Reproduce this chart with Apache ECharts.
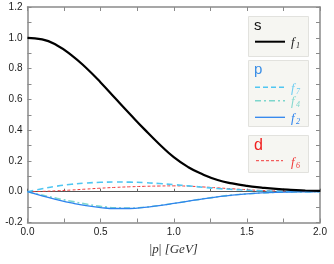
<!DOCTYPE html>
<html><head><meta charset="utf-8">
<script src="https://cdn.jsdelivr.net/npm/echarts@6/dist/echarts.min.js"></script>
<style>html,body{margin:0;padding:0;background:#fff}#c{width:334px;height:264px}</style>
</head><body><div id="c"></div>
<script>
const momenta = [0,0.1,0.2,0.3,0.4,0.5,0.6,0.7,0.8,0.9,1.0,1.1,1.2,1.3,1.4,1.5,1.6,1.7,1.8,1.9,2.0];
const f1 = [1.0,0.99,0.952,0.888,0.805,0.71,0.607,0.505,0.405,0.31,0.224,0.159,0.112,0.076,0.054,0.038,0.027,0.018,0.012,0.008,0.005];
const f7 = [0,0.019,0.036,0.048,0.056,0.061,0.063,0.062,0.059,0.053,0.046,0.038,0.029,0.021,0.015,0.01,0.006,0.004,0.002,0.001,0];
const f4 = [0,-0.022,-0.043,-0.062,-0.08,-0.095,-0.104,-0.106,-0.101,-0.09,-0.076,-0.061,-0.046,-0.033,-0.022,-0.014,-0.008,-0.004,-0.002,-0.001,0];
const f2 = [0,-0.027,-0.051,-0.073,-0.091,-0.103,-0.109,-0.109,-0.102,-0.09,-0.076,-0.061,-0.046,-0.033,-0.022,-0.014,-0.008,-0.004,-0.002,-0.001,0];
const f6 = [0,0.002,0.006,0.011,0.017,0.023,0.028,0.032,0.035,0.037,0.038,0.036,0.031,0.025,0.019,0.013,0.008,0.005,0.003,0.001,0];
const yTicks = [-0.2,0.0,0.2,0.4,0.6,0.8,1.0,1.2];
const xTicks = [0.0,0.5,1.0,1.5,2.0];

const pair = a => momenta.map((p,i)=>[p,a[i]]);
const frame = '#8a8a8a';
const lblFont = {fontSize:10,color:'#1a1a1a',fontFamily:'Liberation Sans, Arial, sans-serif'};
const tick = {show:true,inside:true,length:4,lineStyle:{color:frame,width:1}};
const minor = {show:true,splitNumber:2,length:4,lineStyle:{color:frame,width:1}};

const chart = echarts.init(document.getElementById('c'),null,{renderer:'canvas'});
const common = {type:'value',min:yTicks[0],max:yTicks[yTicks.length-1],interval:0.2};
const opt = {
  animation:false,
  grid:{left:27.5,right:14,top:7,bottom:41.5},
  xAxis:[
    {type:'value',min:xTicks[0],max:xTicks[xTicks.length-1],interval:0.5,position:'bottom',
     axisLine:{onZero:false,lineStyle:{color:frame,width:1.5}},axisTick:tick,minorTick:minor,
     splitLine:{show:false},
     axisLabel:Object.assign({margin:5,formatter:v=>v.toFixed(1)},lblFont),
     name:'{b||}{i|p}{b||} {i|[GeV]}',nameLocation:'middle',nameGap:21,
     nameTextStyle:{rich:{b:{fontSize:13,fontFamily:'Liberation Serif, serif',color:'#333'},
                          i:{fontSize:13,fontStyle:'italic',fontFamily:'Liberation Serif, serif',color:'#333'}}}},
    {type:'value',min:0,max:2,interval:0.5,position:'top',
     axisLine:{onZero:false,lineStyle:{color:frame,width:1.5}},axisTick:tick,minorTick:minor,
     splitLine:{show:false},axisLabel:{show:false}},
    {type:'value',min:0,max:2,interval:0.5,position:'bottom',
     axisLine:{onZero:true,lineStyle:{color:'#555',width:1}},
     axisTick:{show:true,inside:true,length:3,lineStyle:{color:'#666'}},
     minorTick:{show:true,splitNumber:2,length:3,lineStyle:{color:'#666'}},
     splitLine:{show:false},axisLabel:{show:false}}
  ],
  yAxis:[
    Object.assign({position:'left',axisLine:{onZero:false,lineStyle:{color:frame,width:1.5}},axisTick:tick,minorTick:minor,
     splitLine:{show:false},axisLabel:Object.assign({margin:5,formatter:v=>v.toFixed(1)},lblFont)},common),
    Object.assign({position:'right',axisLine:{onZero:false,lineStyle:{color:frame,width:1.5}},axisTick:tick,minorTick:minor,
     splitLine:{show:false},axisLabel:{show:false}},common)
  ],
  series:[
    {type:'line',data:pair(f6),smooth:true,symbol:'none',lineStyle:{color:'#f03a3a',width:1,type:[3,2]}},
    {type:'line',data:pair(f4),smooth:true,symbol:'none',lineStyle:{color:'#7dd6cc',width:1.6,type:[6,3,2,3]}},
    {type:'line',data:pair(f7),smooth:true,symbol:'none',lineStyle:{color:'#4fc6f2',width:1.6,type:[6,4]}},
    {type:'line',data:pair(f2),smooth:true,symbol:'none',lineStyle:{color:'#2e84ee',width:1.3}},
    {type:'line',data:pair(f1),smooth:true,symbol:'none',lineStyle:{color:'#000',width:2.2}}
  ]
};

const boxStyle = {fill:'#f6f6f2',stroke:'#e2e2de',lineWidth:1};
const sans = 'Liberation Sans, Arial, sans-serif';
const serif = 'Liberation Serif, serif';
function fLabel(x,y,sub,color){
  return [
    {type:'text',left:x,top:y-9,z:10,style:{text:'f',font:'italic 13px '+serif,fill:color}},
    {type:'text',left:x+5,top:y-3,z:10,style:{text:sub,font:'italic 8px '+serif,fill:color}}
  ];
}
function sample(y,color,dash,w){
  return {type:'line',z:10,shape:{x1:255,y1:y,x2:285,y2:y},style:{stroke:color,lineWidth:w,lineDash:dash}};
}
opt.graphic = [
  {type:'rect',z:9,shape:{x:248.5,y:16.5,width:60,height:40},style:boxStyle},
  {type:'text',z:10,left:254,top:18,style:{text:'s',font:'15px '+sans,fill:'#111'}},
  sample(41.7,'#000',null,2),
  ...fLabel(291,45,'1','#222'),
  {type:'rect',z:9,shape:{x:248.5,y:60.5,width:60,height:66},style:boxStyle},
  {type:'text',z:10,left:254,top:62,style:{text:'p',font:'15px '+sans,fill:'#3a8ee6'}},
  sample(87.3,'#4fc6f2',[5,3],1.5),
  ...fLabel(291,91,'7','#6fcdf2'),
  sample(100.7,'#7dd6cc',[6,3,2,3],1.5),
  ...fLabel(291,104,'4','#86d8cf'),
  sample(117.3,'#2e84ee',null,1.3),
  ...fLabel(291,121,'2','#2e84ee'),
  {type:'rect',z:9,shape:{x:248.5,y:135.5,width:60,height:37},style:boxStyle},
  {type:'text',z:10,left:254,top:138,style:{text:'d',font:'16px '+sans,fill:'#f02020'}},
  {type:'line',z:10,shape:{x1:256,y1:160.7,x2:283,y2:160.7},style:{stroke:'#f03a3a',lineWidth:1,lineDash:[3,2]}},
  ...fLabel(291,165,'6','#f03a3a')
];
chart.setOption(opt);
</script></body></html>
